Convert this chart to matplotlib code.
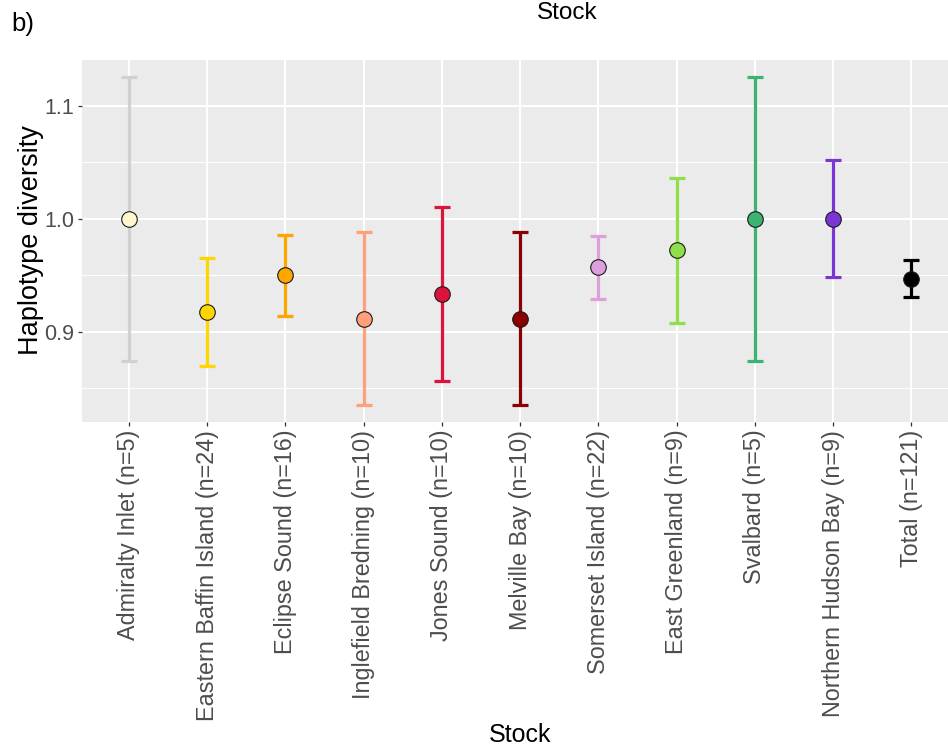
import matplotlib
matplotlib.use("Agg")
import matplotlib.pyplot as plt
from matplotlib.ticker import MultipleLocator

plt.rcParams['font.family'] = ['Liberation Sans', 'DejaVu Sans']

# haplotype diversity per stock with lower / upper interval
stocks = ["Admiralty Inlet", "Eastern Baffin Island", "Eclipse Sound",
          "Inglefield Bredning", "Jones Sound", "Melville Bay",
          "Somerset Island", "East Greenland", "Svalbard",
          "Northern Hudson Bay", "Total"]
n_samples = [5, 24, 16, 10, 10, 10, 22, 9, 5, 9, 121]
hd = [1.000, 0.917, 0.950, 0.911, 0.933, 0.911, 0.957, 0.972, 1.000, 1.000, 0.947]
hd_low = [0.874, 0.869, 0.914, 0.835, 0.856, 0.835, 0.929, 0.908, 0.874, 0.948, 0.931]
hd_high = [1.126, 0.965, 0.986, 0.988, 1.010, 0.988, 0.985, 1.036, 1.126, 1.052, 0.963]

point_cols = ["#FFF8CC", "#FFD700", "#FFA500", "#FFA07A", "#DC143C", "#8B0000",
              "#DDA0DD", "#8FDF4A", "#3CB371", "#7B35D6", "#000000"]
bar_cols = ["#D0D0D0", "#FFD700", "#FFA500", "#FFA07A", "#DC143C", "#8B0000",
            "#DDA0DD", "#8FDF4A", "#3CB371", "#7B35D6", "#000000"]

labels = [f"{s} (n={n})" for s, n in zip(stocks, n_samples)]

W, H = 948, 751
fig = plt.figure(figsize=(W / 100, H / 100), dpi=100)
ax = fig.add_axes([82 / W, (H - 422) / H, (W - 82) / W, 362 / H])

ax.set_facecolor("#EBEBEB")
for sp in ax.spines.values():
    sp.set_visible(False)

xs = list(range(len(stocks)))
for x, y, lo, hi, pc, bc in zip(xs, hd, hd_low, hd_high, point_cols, bar_cols):
    ax.errorbar([x], [y], yerr=[[y - lo], [hi - y]], fmt="none", ecolor=bc,
                elinewidth=2.3, capsize=5.8, capthick=2.3, zorder=3)
    ax.plot([x], [y], "o", ms=11.2, mfc=pc, mec="#1A1A1A", mew=0.8, zorder=4)

ax.set_xlim(-0.6, len(stocks) - 1 + 0.47)
ax.set_ylim(0.8198, 1.1407)
ax.set_xticks(xs)
ax.set_xticklabels(labels, rotation=90)
ax.yaxis.set_major_locator(MultipleLocator(0.1))
ax.yaxis.set_minor_locator(MultipleLocator(0.05))
ax.yaxis.set_major_formatter(matplotlib.ticker.FormatStrFormatter("%.1f"))

ax.set_axisbelow(True)
ax.grid(which="major", color="white", lw=1.5)
ax.grid(which="minor", axis="y", color="white", lw=0.8)
ax.tick_params(which="major", length=3, width=0.9, color="#333333",
               labelcolor="#4D4D4D", pad=2.5)
ax.tick_params(axis="x", labelsize=16.8)
ax.tick_params(axis="y", labelsize=15.5)
ax.tick_params(which="minor", length=0)

fig.text(520 / W, 1 - 735 / H, "Stock", fontsize=18, ha="center", va="center")
fig.text(31 / W, 1 - 240 / H, "Haplotype diversity", fontsize=19.5,
         rotation=90, ha="center", va="center")
fig.text(567 / W, 1 - 13 / H, "Stock", fontsize=17.5, ha="center", va="center")
fig.text(11 / W, 1 - 24 / H, "b)", fontsize=18.5, ha="left", va="center")

fig.savefig("out.png", dpi=100)
